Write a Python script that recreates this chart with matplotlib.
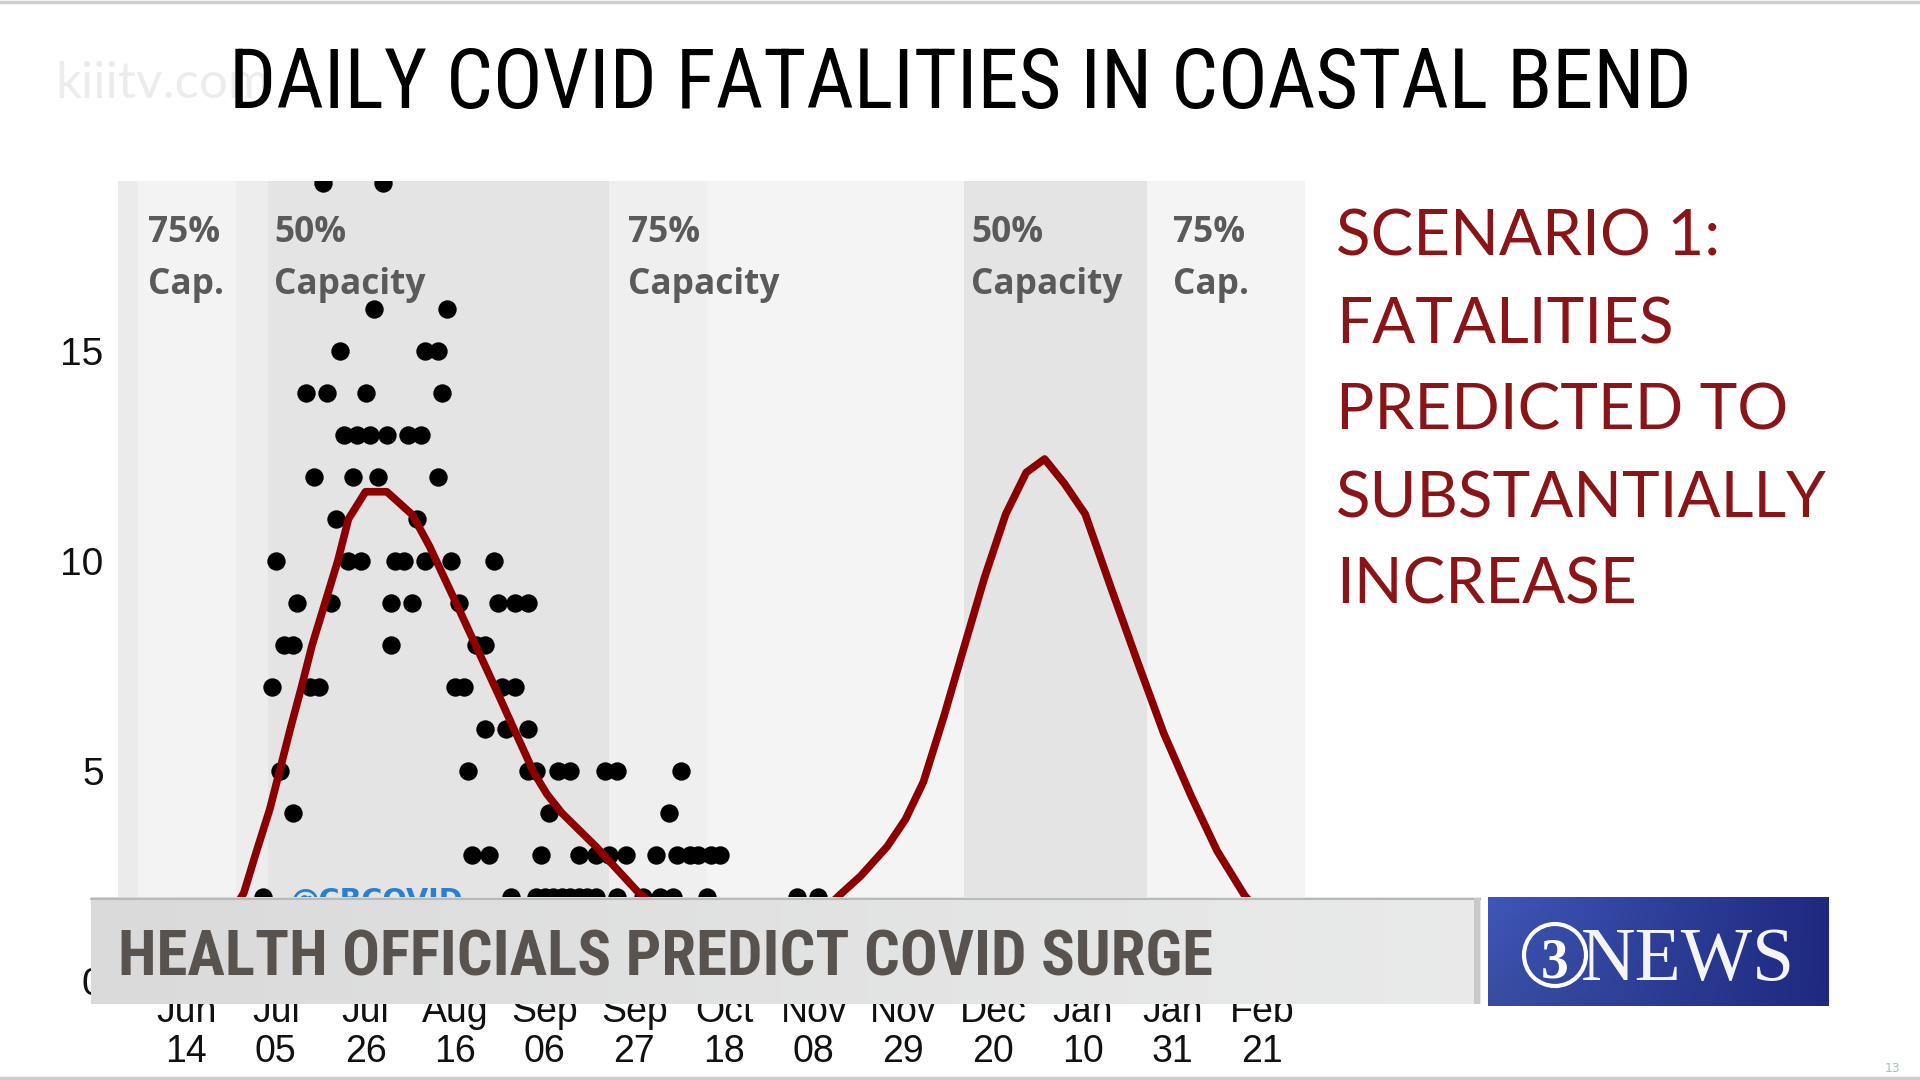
import numpy as np
import matplotlib
matplotlib.use("Agg")
import matplotlib.pyplot as plt
from matplotlib import font_manager as fm
from matplotlib.patches import Rectangle, Circle

# ---------------- data (x = days after 2020-06-14) ----------------
tick_days = [0, 21, 42, 63, 84, 105, 126, 147, 168, 189, 210, 231, 252]
tick_labels = ["Jun\n14", "Jul\n05", "Jul\n26", "Aug\n16", "Sep\n06", "Sep\n27",
               "Oct\n18", "Nov\n08", "Nov\n29", "Dec\n20", "Jan\n10", "Jan\n31", "Feb\n21"]
y_ticks = [0, 5, 10, 15]

# capacity periods (start day, end day, shade)
period_starts = [-16.1, -11.3, 11.7, 19.1, 99.1, 122.1, 182.3, 225.1]
period_ends = [-11.3, 11.7, 19.1, 99.1, 122.1, 182.3, 225.1, 262.1]
period_shades = ["#ebebeb", "#f3f3f3", "#ededed", "#e4e4e4", "#efefef", "#f4f4f4", "#e4e4e4", "#f4f4f4"]

label_days = [-8.9, 20.6, 103.6, 183.9, 231.2]
label_top = ["75%", "50%", "75%", "50%", "75%"]
label_bottom = ["Cap.", "Capacity", "Capacity", "Capacity", "Cap."]

# observed daily fatalities (day offsets grouped by value)
deaths_19 = [32, 46]
deaths_16 = [44, 61]
deaths_15 = [36, 56, 59]
deaths_14 = [28, 33, 42, 60]
deaths_13 = [37, 40, 43, 47, 52, 55]
deaths_12 = [30, 39, 45, 59]
deaths_11 = [35, 54]
deaths_10 = [21, 38, 41, 49, 51, 56, 62, 72]
deaths_9 = [26, 34, 48, 53, 64, 73, 77, 80]
deaths_8 = [23, 25, 48, 68, 70]
deaths_7 = [20, 29, 31, 63, 65, 74, 77]
deaths_6 = [70, 75, 80]
deaths_5 = [22, 66, 80, 82, 87, 90, 98, 101, 116]
deaths_4 = [25, 85, 113]
deaths_3 = [67, 71, 83, 92, 96, 99, 103, 110, 115, 118, 120, 123, 125]
deaths_2 = [18, 76, 82, 84, 86, 88, 90, 92, 94, 96, 101, 107, 111, 114, 122, 143, 148]

# model curve (scenario 1)
curve_days = [-16, -10, -5, 0, 5, 10, 13.5, 16.5, 19.6, 22, 24.5, 27, 29.5, 32.5, 35.5, 38, 42, 47,
              53, 57, 63, 68, 73, 77, 81.5, 84.5, 88, 92, 96, 101, 106, 115, 125, 133, 140, 146,
              152.9, 158, 164.2, 168.5, 172.7, 177.5, 182.2, 187, 192.0, 196.8, 201.1, 205.7,
              210.6, 216.7, 222.9, 229, 235.5, 241.5, 248, 254, 263]
curve_vals = [0.02, 0.08, 0.2, 0.45, 0.9, 1.5, 2.1, 3.1, 4.1, 5.05, 6.05, 7.0, 8.0, 9.0, 10.0, 11.0, 11.65, 11.65,
              11.1, 10.35, 9.05, 7.95, 6.85, 5.95, 4.95, 4.45, 4.0, 3.6, 3.2, 2.65, 2.1, 1.4, 0.9, 0.75, 0.9, 1.35,
              2.03, 2.5, 3.2, 3.85, 4.74, 6.3, 7.94, 9.6, 11.12, 12.11, 12.43, 11.85,
              11.12, 9.35, 7.59, 5.9, 4.39, 3.1, 2.03, 1.35, 0.8]

# ---------------- fonts ----------------
def has_family(name):
    try:
        fm.findfont(fm.FontProperties(family=name), fallback_to_default=False)
        return True
    except Exception:
        return False

narrow = next((f for f in ["Liberation Sans Narrow", "Roboto Condensed", "Arial Narrow"] if has_family(f)), None)
title_font = narrow or "Lato"
banner_font = narrow or "Roboto"

W, H = 1920, 1080
fig = plt.figure(figsize=(19.2, 10.8), dpi=100, facecolor="white")
renderer = fig.canvas.get_renderer()

def fit(t, width_px):
    for _ in range(3):
        bb = t.get_window_extent(renderer)
        t.set_fontsize(t.get_fontsize() * width_px / bb.width)
    return t.get_fontsize()

# ---------------- main chart ----------------
ax = fig.add_axes([117.5 / W, 99 / H, (1305 - 117.5) / W, 800 / H])
ax.set_xlim(-16.1, 262.1)
ax.set_ylim(0, 19.05)
ax.set_facecolor("white")
for s in ax.spines.values():
    s.set_visible(False)

for a, b, c in zip(period_starts, period_ends, period_shades):
    ax.axvspan(a, b, color=c, lw=0, zorder=0)

rows = [(19, deaths_19), (16, deaths_16), (15, deaths_15), (14, deaths_14), (13, deaths_13),
        (12, deaths_12), (11, deaths_11), (10, deaths_10), (9, deaths_9), (8, deaths_8),
        (7, deaths_7), (6, deaths_6), (5, deaths_5), (4, deaths_4), (3, deaths_3), (2, deaths_2)]
dx = [d for v, ds in rows for d in ds]
dy = [v for v, ds in rows for d in ds]
ax.scatter(dx, dy, s=175, c="black", linewidths=0, zorder=3)
ax.plot(curve_days, curve_vals, color="#8b0000", lw=5.5, zorder=4, solid_joinstyle="round")

ax.set_xticks(tick_days)
ax.set_xticklabels(tick_labels, fontfamily="Liberation Sans", fontsize=27, color="#111111",
                   linespacing=1.15)
ax.set_yticks(y_ticks)
ax.set_yticklabels([str(v) for v in y_ticks], fontfamily="Liberation Sans", fontsize=28, color="#111111")
ax.tick_params(axis="x", length=0, pad=9)
ax.tick_params(axis="y", length=0, pad=10)

# capacity labels
xt = ax.get_xaxis_transform()
probe = ax.text(0, 0, "Capacity", fontfamily="Open Sans", fontweight="bold", fontsize=26)
cap_size = fit(probe, 152)
probe.remove()
for d, t1, t2 in zip(label_days, label_top, label_bottom):
    ax.text(d, (981 - 242) / 800, t1, transform=xt, fontfamily="Open Sans", fontweight="bold",
            fontsize=cap_size, color="#5a5a5a", va="baseline", ha="left", zorder=5)
    ax.text(d, (981 - 294) / 800, t2, transform=xt, fontfamily="Open Sans", fontweight="bold",
            fontsize=cap_size, color="#5a5a5a", va="baseline", ha="left", zorder=5)

# ---------------- overlay (slide text and broadcast graphics) ----------------
ov = fig.add_axes([0, 0, 1, 1], zorder=5)
ov.set_xlim(0, W)
ov.set_ylim(H, 0)
ov.axis("off")
ov.set_autoscale_on(False)

ov.plot([0, W], [1.5, 1.5], color="#cfcfcf", lw=2.5)
ov.plot([0, W], [1078, 1078], color="#cccccc", lw=2.5)

wm = ov.text(55, 98, "kiiitv.com", fontfamily="Lato", fontsize=30, color="#ececec", va="baseline", zorder=1)
fit(wm, 215)

title = ov.text(960, 108, "DAILY COVID FATALITIES IN COASTAL BEND", fontfamily=title_font,
                fontsize=55, color="black", ha="center", va="baseline", zorder=2)
fit(title, 1463)

red_lines = ["SCENARIO 1:", "FATALITIES", "PREDICTED TO", "SUBSTANTIALLY", "INCREASE"]
red_base = [256, 343, 430, 517, 604]
probe = ov.text(0, 0, "SUBSTANTIALLY", fontfamily="Lato", fontsize=45)
red_size = fit(probe, 491)
probe.remove()
for t, yb in zip(red_lines, red_base):
    ov.text(1336, yb, t, fontfamily="Lato", fontsize=red_size, color="#8a1519", va="baseline", zorder=2)

cb = ov.text(290, 909, "@CBCOVID", fontfamily="DejaVu Sans", fontweight="bold", fontsize=22,
             color="#2b7fd1", va="baseline", zorder=2)
fit(cb, 172)

# lower-third banner
g = np.linspace(0, 1, 256)[None, :, None]
c0 = np.array([0.855, 0.855, 0.855])
c1 = np.array([0.915, 0.918, 0.918])
ov.imshow(c0 + (c1 - c0) * g, extent=(90.6, 1480, 1004, 897.5), aspect="auto", zorder=6)
ov.plot([90.6, 1480], [898.5, 898.5], color="#b9b9b9", lw=1.5, zorder=7)
ov.add_patch(Rectangle((1474, 897.5), 6, 106.5, color="#c9c9c9", lw=0, zorder=7))
bt = ov.text(117.5, 976, "HEALTH OFFICIALS PREDICT COVID SURGE", fontfamily=banner_font, fontweight="bold",
             fontsize=40, color="#58534e", va="baseline", zorder=8)
fit(bt, 1095)

# station logo
yy = np.linspace(0, 1, 64)[:, None, None]
xx = np.linspace(0, 1, 256)[None, :, None]
left = np.array([0.25, 0.34, 0.72])
right = np.array([0.12, 0.16, 0.50])
logo = left + (right - left) * xx
logo = logo * (1 - 0.12 * yy * (1 - xx))
ov.imshow(logo, extent=(1488, 1829, 1006.5, 897.5), aspect="auto", zorder=6)
ov.add_patch(Circle((1555, 955), 31, fill=False, ec="white", lw=3, zorder=8))
ov.text(1555, 957, "3", fontfamily="Liberation Serif", fontweight="bold", fontsize=40, color="white",
        ha="center", va="center_baseline", zorder=8)
nw = ov.text(1581, 980, "NEWS", fontfamily="Liberation Serif", fontsize=52, color="#f4f4f4",
             va="baseline", zorder=8)
fit(nw, 214)

ov.text(1900, 1072, "13", fontfamily="DejaVu Sans", fontsize=9, color="#9cc4ba", ha="right", va="baseline")

fig.savefig("out.png", dpi=100, facecolor="white")
